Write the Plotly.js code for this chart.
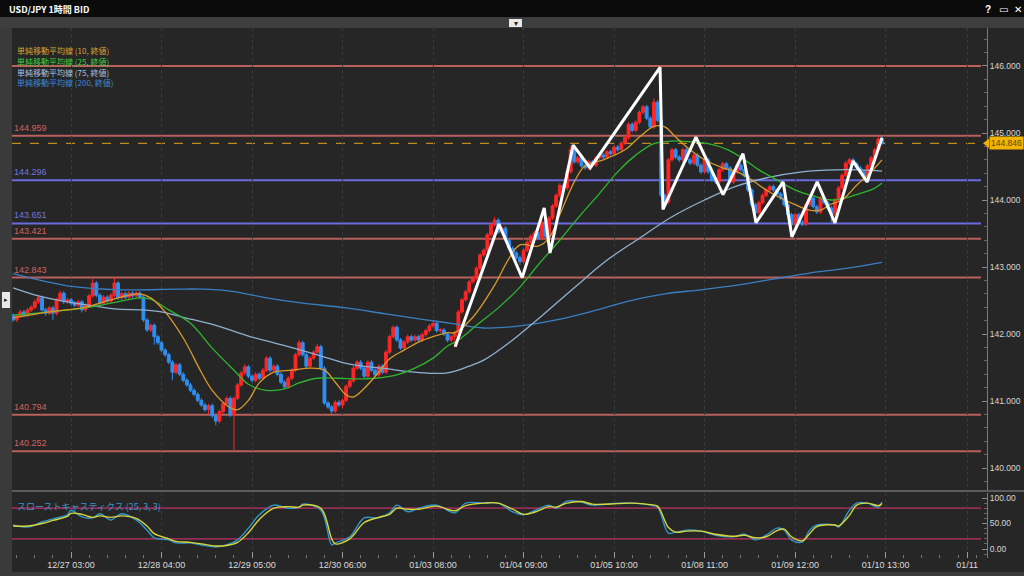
<!DOCTYPE html>
<html><head><meta charset="utf-8">
<script src="https://cdn.plot.ly/plotly-3.0.1.min.js"></script>
<style>html,body{margin:0;padding:0;background:#262626;}#chart{width:1024px;height:576px;}</style>
</head><body><div id="chart"></div>
<script>
// ---------- DATA ----------
const chartTitle = "USD/JPY 1時間 BID";
const openP = [
142.28,142.21,142.27,142.33,142.28,142.36,142.40,142.48,142.54,142.36,
142.31,142.39,142.31,142.51,142.61,142.48,142.51,142.46,142.43,142.48,
142.36,142.43,142.57,142.76,142.58,142.46,142.55,142.49,142.58,142.76,
142.54,142.60,142.55,142.61,142.57,142.61,142.55,142.21,142.06,142.13,
141.96,141.87,141.76,141.69,141.58,141.43,141.54,141.40,141.31,141.24,
141.16,141.10,141.01,140.94,140.87,140.93,140.78,140.70,140.84,140.96,
141.04,140.79,141.04,141.24,141.42,141.51,141.37,141.31,141.40,141.34,
141.46,141.64,141.46,141.52,141.40,141.28,141.21,141.34,141.46,141.69,
141.87,141.69,141.52,141.64,141.73,141.81,141.49,140.97,140.91,140.85,
140.98,140.94,141.01,141.22,141.30,141.49,141.58,141.49,141.37,141.58,
141.46,141.39,141.52,141.43,141.73,141.96,142.10,141.91,141.79,141.88,
141.96,141.91,141.96,141.91,141.99,142.05,142.12,142.16,142.05,142.06,
142.00,141.91,141.96,142.02,142.33,142.51,142.63,142.78,142.84,142.98,
143.18,143.25,143.48,143.63,143.70,143.52,143.58,143.40,143.28,143.21,
143.14,143.08,143.25,143.37,143.46,143.51,143.43,143.67,143.46,143.73,
143.91,144.07,144.22,144.18,144.42,144.75,144.57,144.63,144.51,144.48,
144.57,144.52,144.63,144.67,144.64,144.72,144.69,144.79,144.75,144.85,
144.93,145.13,145.04,145.16,145.31,145.39,145.22,145.09,145.46,145.19,
144.07,143.97,144.60,144.75,144.64,144.60,144.75,144.60,144.55,144.67,
144.52,144.42,144.60,144.42,144.30,144.27,144.45,144.54,144.48,144.27,
144.42,144.52,144.45,144.36,144.15,143.93,143.81,143.96,144.07,144.15,
144.20,144.15,144.09,144.03,143.93,143.78,143.63,143.78,143.67,143.64,
143.93,144.03,143.90,143.82,144.03,143.96,143.88,143.79,144.00,144.18,
144.37,144.55,144.60,144.54,144.48,144.42,144.36,144.51,144.63,144.75,
144.91];
const highP = [
142.31,142.30,142.36,142.36,142.39,142.43,142.51,142.58,142.57,142.39,
142.42,142.42,142.54,142.65,142.64,142.54,142.54,142.49,142.51,142.51,
142.46,142.60,142.82,142.79,142.61,142.58,142.58,142.61,142.84,142.79,
142.63,142.63,142.64,142.64,142.64,142.64,142.58,142.24,142.16,142.16,
141.99,141.90,141.79,141.72,141.61,141.57,141.57,141.43,141.34,141.27,
141.19,141.13,141.04,140.97,140.96,140.96,140.81,140.87,140.99,141.07,
141.07,141.07,141.27,141.45,141.55,141.54,141.40,141.43,141.43,141.49,
141.67,141.67,141.55,141.55,141.43,141.31,141.37,141.49,141.72,141.91,
141.90,141.72,141.67,141.76,141.85,141.84,141.52,141.00,140.94,141.01,
141.01,141.04,141.25,141.33,141.52,141.61,141.61,141.52,141.61,141.61,
141.49,141.55,141.55,141.76,141.99,142.13,142.13,141.94,141.91,141.99,
141.99,141.99,141.99,142.02,142.08,142.15,142.19,142.19,142.09,142.09,
142.03,141.99,142.05,142.36,142.54,142.66,142.81,142.87,143.01,143.21,
143.28,143.51,143.66,143.75,143.73,143.61,143.61,143.43,143.31,143.24,
143.17,143.28,143.40,143.49,143.54,143.54,143.70,143.70,143.76,143.94,
144.10,144.25,144.25,144.45,144.80,144.78,144.66,144.66,144.54,144.60,
144.60,144.66,144.70,144.70,144.75,144.75,144.82,144.82,144.88,144.96,
145.16,145.16,145.19,145.34,145.42,145.42,145.25,145.52,145.49,145.22,
144.10,144.63,144.78,144.78,144.67,144.78,144.78,144.63,144.70,144.70,
144.55,144.63,144.63,144.45,144.33,144.48,144.57,144.57,144.51,144.45,
144.55,144.55,144.48,144.39,144.18,143.96,143.99,144.10,144.18,144.23,
144.23,144.18,144.12,144.06,143.96,143.81,143.81,143.81,143.70,143.96,
144.06,144.06,143.93,144.06,144.06,143.99,143.91,144.03,144.21,144.40,
144.58,144.63,144.63,144.57,144.51,144.45,144.54,144.66,144.78,144.95,
144.96];
const lowP = [
142.18,142.18,142.24,142.25,142.25,142.33,142.37,142.45,142.33,142.27,
142.28,142.21,142.28,142.48,142.45,142.45,142.43,142.40,142.40,142.32,
142.33,142.40,142.54,142.55,142.43,142.43,142.46,142.46,142.55,142.51,
142.51,142.52,142.52,142.54,142.54,142.52,142.18,142.03,142.03,141.84,
141.84,141.73,141.66,141.55,141.31,141.40,141.37,141.28,141.21,141.13,
141.07,140.98,140.91,140.84,140.80,140.75,140.64,140.67,140.81,140.93,
140.76,140.27,141.01,141.21,141.39,141.34,141.28,141.28,141.31,141.31,
141.43,141.43,141.43,141.37,141.25,141.18,141.18,141.31,141.43,141.66,
141.66,141.49,141.49,141.61,141.70,141.46,140.94,140.88,140.81,140.82,
140.91,140.89,140.98,141.19,141.27,141.46,141.46,141.34,141.34,141.43,
141.36,141.36,141.40,141.40,141.70,141.93,141.88,141.76,141.76,141.85,
141.88,141.88,141.88,141.88,141.96,142.02,142.09,142.02,142.02,141.97,
141.88,141.88,141.80,141.99,142.30,142.48,142.60,142.75,142.81,142.95,
143.15,143.22,143.45,143.60,143.49,143.49,143.37,143.25,143.18,143.11,
143.03,143.05,143.22,143.34,143.43,143.40,143.40,143.43,143.43,143.70,
143.88,144.04,144.15,144.15,144.39,144.54,144.54,144.48,144.45,144.45,
144.49,144.49,144.60,144.61,144.61,144.66,144.66,144.72,144.72,144.82,
144.90,145.01,145.01,145.13,145.28,145.19,145.06,145.06,145.16,144.04,
143.90,143.94,144.57,144.61,144.57,144.57,144.57,144.52,144.52,144.49,
144.39,144.39,144.39,144.27,144.24,144.24,144.42,144.45,144.24,144.24,
144.39,144.42,144.33,144.12,143.90,143.75,143.78,143.93,144.04,144.12,
144.12,144.06,144.00,143.90,143.75,143.45,143.60,143.64,143.61,143.61,
143.90,143.87,143.79,143.79,143.93,143.85,143.67,143.76,143.97,144.15,
144.34,144.52,144.51,144.45,144.39,144.33,144.33,144.48,144.60,144.72,
144.82];
const closeP = [
142.21,142.27,142.33,142.28,142.36,142.40,142.48,142.54,142.36,142.31,
142.39,142.31,142.51,142.61,142.48,142.51,142.46,142.43,142.48,142.36,
142.43,142.57,142.76,142.58,142.46,142.55,142.49,142.58,142.76,142.54,
142.60,142.55,142.61,142.57,142.61,142.55,142.21,142.06,142.13,141.96,
141.87,141.76,141.69,141.58,141.43,141.54,141.40,141.31,141.24,141.16,
141.10,141.01,140.94,140.87,140.93,140.78,140.70,140.84,140.96,141.04,
140.79,141.04,141.24,141.42,141.51,141.37,141.31,141.40,141.34,141.46,
141.64,141.46,141.52,141.40,141.28,141.21,141.34,141.46,141.69,141.87,
141.69,141.52,141.64,141.73,141.81,141.49,140.97,140.91,140.85,140.98,
140.94,141.01,141.22,141.30,141.49,141.58,141.49,141.37,141.58,141.46,
141.39,141.52,141.43,141.73,141.96,142.10,141.91,141.79,141.88,141.96,
141.91,141.96,141.91,141.99,142.05,142.12,142.16,142.05,142.06,142.00,
141.91,141.96,142.02,142.33,142.51,142.63,142.78,142.84,142.98,143.18,
143.25,143.48,143.63,143.70,143.52,143.58,143.40,143.28,143.21,143.14,
143.08,143.25,143.37,143.46,143.51,143.43,143.67,143.46,143.73,143.91,
144.07,144.22,144.18,144.42,144.75,144.57,144.63,144.51,144.48,144.57,
144.52,144.63,144.67,144.64,144.72,144.69,144.79,144.75,144.85,144.93,
145.13,145.04,145.16,145.31,145.39,145.22,145.09,145.46,145.19,144.07,
143.97,144.60,144.75,144.64,144.60,144.75,144.60,144.55,144.67,144.52,
144.42,144.60,144.42,144.30,144.27,144.45,144.54,144.48,144.27,144.42,
144.52,144.45,144.36,144.15,143.93,143.81,143.96,144.07,144.15,144.20,
144.15,144.09,144.03,143.93,143.78,143.63,143.78,143.67,143.64,143.93,
144.03,143.90,143.82,144.03,143.96,143.88,143.79,144.00,144.18,144.37,
144.55,144.60,144.54,144.48,144.42,144.36,144.51,144.63,144.75,144.91,
144.846];

// moving averages (read at sampled bars)
const ma10Idx = [0,10,20,27,35,38,42,47,52,55,60,62,65,68,72,77,82,86,89,92,94,97,101,104,108,112,116,120,122,127,133,137,140,145,148,151,155,158,163,169,173,177,180,183,187,191,196,200,204,208,212,216,220,223,226,229,233,237,240];
const ma10Val = [142.24,142.33,142.40,142.51,142.60,142.54,142.33,141.94,141.43,141.16,140.90,140.87,141.01,141.27,141.43,141.46,141.49,141.46,141.28,141.09,141.06,141.19,141.43,141.63,141.76,141.88,141.96,142.02,142.02,142.25,142.73,143.13,143.33,143.31,143.43,143.78,144.27,144.51,144.60,144.75,144.94,145.10,145.09,144.94,144.75,144.60,144.48,144.42,144.30,144.15,144.03,143.93,143.85,143.85,143.94,144.00,144.22,144.42,144.60];
const ma25Idx = [0,10,20,27,35,38,43,49,55,61,65,70,75,79,84,90,95,100,106,111,116,120,123,128,134,140,145,151,156,162,167,172,177,182,187,192,197,201,206,211,216,221,226,230,234,237,240];
const ma25Val = [142.28,142.33,142.39,142.46,142.54,142.52,142.36,142.16,141.79,141.46,141.25,141.16,141.18,141.27,141.34,141.34,141.33,141.34,141.39,141.49,141.64,141.82,141.91,142.13,142.39,142.70,143.03,143.40,143.73,144.10,144.42,144.67,144.84,144.88,144.87,144.84,144.76,144.64,144.45,144.30,144.15,144.06,144.00,144.03,144.10,144.15,144.25];
const ma75Idx = [0,7,15,22,29,36,41,47,56,65,74,84,93,102,111,120,126,130,137,146,155,164,173,182,191,200,209,218,227,234,240];
const ma75Val = [142.69,142.57,142.48,142.42,142.37,142.36,142.33,142.25,142.13,141.97,141.84,141.69,141.55,141.49,141.43,141.42,141.52,141.61,141.87,142.27,142.69,143.10,143.43,143.75,144.00,144.21,144.34,144.42,144.45,144.45,144.43];
const ma200Idx = [0,15,30,45,52,60,70,80,92,103,113,121,130,140,150,160,170,180,190,200,210,220,230,240];
const ma200Val = [142.90,142.72,142.66,142.67,142.67,142.64,142.54,142.46,142.39,142.30,142.22,142.16,142.09,142.12,142.21,142.34,142.49,142.60,142.66,142.73,142.82,142.91,142.98,143.07];
const maNames = ["単純移動平均線 (10, 終値)","単純移動平均線 (25, 終値)","単純移動平均線 (75, 終値)","単純移動平均線 (200, 終値)"];

// hand-drawn zigzag (bar index, price)
const zzIdx = [122.1,134.2,140.6,146.7,148.3,154.7,159.4,178.7,179.5,188.6,196.1,201.6,205.2,212.7,215.1,222.1,227.0,232.0,235.9,240.0];
const zzVal = [141.81,143.64,142.84,143.88,143.21,144.82,144.48,145.98,143.86,144.94,144.08,144.69,143.66,144.27,143.45,144.27,143.66,144.58,144.27,144.93];

// horizontal levels
const levels = [146.000,144.959,144.296,143.651,143.421,142.843,140.794,140.252];
const levelKind = ["R","R","B","B","R","R","R","R"];
const levelLabeled = [false,true,true,true,true,true,true,true];
const lastPrice = 144.846;

// slow stochastics (25,3,3)
const stIdx = [0,4,8,11,15,16,19,22,24,27,30,34,37,39,43,45,49,52,56,59,62,65,68,72,76,79,80,85,88,89,93,97,101,104,106,109,112,117,122,125,130,134,138,141,144,148,150,153,157,160,167,171,176,178,181,183,186,190,194,199,202,205,208,211,213,215,218,220,222,227,228,231,233,236,239,240];
const stK = [47,43,53,59,67,76,63,61,69,57,69,57,37,22,18,12,12,8,4,8,18,41,67,86,80,82,88,76,8,12,24,61,61,71,86,73,80,86,71,90,90,90,73,67,75,86,80,94,92,86,90,90,86,82,31,33,37,35,27,24,29,18,27,41,37,18,14,37,47,47,43,76,90,90,82,92];
const stD = [45,45,50,56,64,70,68,62,65,62,65,60,45,30,20,15,13,10,6,7,13,32,58,80,83,82,86,80,20,10,20,52,62,68,80,78,78,84,75,85,90,90,78,68,72,83,82,90,93,88,89,90,87,84,42,33,35,35,29,25,27,22,24,36,39,24,16,30,44,47,45,66,86,90,85,89];
const stTitle = "スローストキャスティクス (25, 3, 3)";
const stLevels = [80, 20];

// x-axis tick labels (bar index)
const tickIdx = [16,41,66,91,116,141,166,191,216,241,263.5];
const tickText = ["12/27 03:00","12/28 04:00","12/29 05:00","12/30 06:00","01/03 08:00","01/04 09:00","01/05 10:00","01/08 11:00","01/09 12:00","01/10 13:00","01/11"];

// ---------- LAYOUT HELPERS ----------
const W = 1024, H = 576;
const px = v => v / W;
const py = v => 1 - v / H;
const barIdx = closeP.map((_, i) => i);
const JP = "Noto Sans CJK JP, Noto Sans, sans-serif";
const NUM = "Liberation Sans, Noto Sans, sans-serif";
const redLine = "#b9615d", blueLine = "#6b6be0";
const redText = "#d06262", blueText = "#7474dc";

const traces = [
  {type:"candlestick", x:barIdx, open:openP, high:highP, low:lowP, close:closeP,
   xaxis:"x", yaxis:"y", whiskerwidth:0, hoverinfo:"skip",
   increasing:{line:{color:"#ff2626", width:1}, fillcolor:"#ff2626"},
   decreasing:{line:{color:"#2f8ff2", width:1}, fillcolor:"#2f8ff2"}, showlegend:false},
  {type:"scatter", mode:"lines", x:ma200Idx, y:ma200Val, line:{color:"#3a7fc2", width:1.3, shape:"spline", smoothing:1}, hoverinfo:"skip", showlegend:false},
  {type:"scatter", mode:"lines", x:ma75Idx, y:ma75Val, line:{color:"#8fb0cf", width:1.3, shape:"spline", smoothing:1}, hoverinfo:"skip", showlegend:false},
  {type:"scatter", mode:"lines", x:ma25Idx, y:ma25Val, line:{color:"#2fb52f", width:1.3, shape:"spline", smoothing:1}, hoverinfo:"skip", showlegend:false},
  {type:"scatter", mode:"lines", x:ma10Idx, y:ma10Val, line:{color:"#d99a2b", width:1.3, shape:"spline", smoothing:1}, hoverinfo:"skip", showlegend:false},
  {type:"scatter", mode:"lines", x:zzIdx, y:zzVal, line:{color:"#ffffff", width:3}, hoverinfo:"skip", showlegend:false},
  {type:"scatter", mode:"lines", x:stIdx, y:stK, xaxis:"x", yaxis:"y2", line:{color:"#2e97c9", width:1.4, shape:"spline", smoothing:1}, hoverinfo:"skip", showlegend:false},
  {type:"scatter", mode:"lines", x:stIdx, y:stD, xaxis:"x", yaxis:"y2", line:{color:"#d8d63a", width:1.4, shape:"spline", smoothing:1}, hoverinfo:"skip", showlegend:false}
];

const shapes = [
  {type:"rect", xref:"paper", yref:"paper", x0:0, x1:1, y0:py(17), y1:1, fillcolor:"#0b0b0b", line:{width:0}, layer:"below"},
  {type:"rect", xref:"paper", yref:"paper", x0:0, x1:1, y0:py(28), y1:py(17), fillcolor:"#3e3e3e", line:{width:0}, layer:"below"},
  {type:"rect", xref:"paper", yref:"paper", x0:0, x1:px(12), y0:0, y1:py(28), fillcolor:"#3a3a3a", line:{width:0}, layer:"below"},
  {type:"rect", xref:"paper", yref:"paper", x0:0, x1:1, y0:0, y1:py(572), fillcolor:"#3a3a3a", line:{width:0}, layer:"below"},
  {type:"rect", xref:"paper", yref:"paper", x0:px(509), x1:px(522), y0:py(27), y1:py(19), fillcolor:"#e8e8e8", line:{width:0}},
  {type:"rect", xref:"paper", yref:"paper", x0:px(2), x1:px(10), y0:py(308), y1:py(292), fillcolor:"#e8e8e8", line:{width:0}},
  {type:"line", xref:"paper", yref:"paper", x0:px(12), x1:1, y0:py(491), y1:py(491), line:{color:"#5c5c5c", width:2}}
];
levels.forEach((lv, k) => {
  shapes.push({type:"line", xref:"paper", yref:"y", x0:px(12), x1:px(981), y0:lv, y1:lv,
    line:{color: levelKind[k] === "R" ? redLine : blueLine, width:2}, layer:"below"});
});
shapes.push({type:"line", xref:"paper", yref:"y", x0:px(12), x1:px(981), y0:lastPrice, y1:lastPrice,
  line:{color:"#e2a21c", width:1, dash:"dash"}, layer:"below"});
stLevels.forEach(v => shapes.push({type:"line", xref:"paper", yref:"y2", x0:px(12), x1:px(981), y0:v, y1:v,
  line:{color:"#c0306a", width:1.3}, layer:"below"}));
shapes.push({type:"path", xref:"paper", yref:"y", path:`M ${px(983)} ${lastPrice} L ${px(989)} ${lastPrice+0.07} L ${px(989)} ${lastPrice-0.07} Z`, fillcolor:"#f2b300", line:{width:0}});

const annotations = [
  {xref:"paper", yref:"paper", x:px(7), y:py(9), xanchor:"left", yanchor:"middle", showarrow:false,
   text:"<b>"+chartTitle+"</b>", font:{family:JP, size:9, color:"#ffffff"}},
  {xref:"paper", yref:"paper", x:px(988), y:py(9), xanchor:"center", yanchor:"middle", showarrow:false, text:"<b>?</b>", font:{family:NUM, size:10, color:"#ffffff"}},
  {xref:"paper", yref:"paper", x:px(1003), y:py(9), xanchor:"center", yanchor:"middle", showarrow:false, text:"<b>▭</b>", font:{family:"DejaVu Sans", size:10, color:"#ffffff"}},
  {xref:"paper", yref:"paper", x:px(1018), y:py(9), xanchor:"center", yanchor:"middle", showarrow:false, text:"<b>✕</b>", font:{family:"DejaVu Sans", size:10, color:"#ffffff"}},
  {xref:"paper", yref:"paper", x:px(515.5), y:py(23), xanchor:"center", yanchor:"middle", showarrow:false, text:"▾", font:{family:"DejaVu Sans", size:8, color:"#222"}},
  {xref:"paper", yref:"paper", x:px(6), y:py(300), xanchor:"center", yanchor:"middle", showarrow:false, text:"▸", font:{family:"DejaVu Sans", size:7, color:"#222"}},
  {xref:"paper", yref:"y", x:px(989), y:lastPrice, xanchor:"left", yanchor:"middle", showarrow:false,
   text:lastPrice.toFixed(3), bgcolor:"#f2b300", borderpad:1, font:{family:NUM, size:8.5, color:"#5a4a00"}},
  {xref:"paper", yref:"paper", x:px(15), y:py(506), xanchor:"left", yanchor:"middle", showarrow:false,
   text:stTitle, font:{family:JP, size:9, color:"#3a94c8"}}
];
const maColors = ["#dba232","#3ccf3c","#a6c2e0","#3d86d6"];
const maRows = [51,62,72,82];
maNames.forEach((n, k) => annotations.push({xref:"paper", yref:"paper", x:px(15), y:py(maRows[k]), xanchor:"left", yanchor:"middle",
  showarrow:false, text:n, font:{family:JP, size:8, color:maColors[k]}}));
levels.forEach((lv, k) => {
  if (!levelLabeled[k]) return;
  annotations.push({xref:"paper", yref:"y", x:px(12), y:lv, xanchor:"left", yanchor:"bottom", yshift:1, showarrow:false,
    text:lv.toFixed(3), font:{family:NUM, size:9, color: levelKind[k] === "R" ? redText : blueText}});
});

const layout = {
  width:W, height:H, margin:{l:0,r:0,t:0,b:0},
  paper_bgcolor:"#262626", plot_bgcolor:"rgba(0,0,0,0)",
  showlegend:false, hovermode:false, dragmode:false,
  boxgap:0.1, boxgroupgap:0.12,
  font:{family:NUM, color:"#d6d6d6"},
  xaxis:{domain:[px(12), px(987)], range:[-0.3, 269], anchor:"y2", rangeslider:{visible:false},
    tickmode:"array", tickvals:tickIdx, ticktext:tickText, ticks:"inside", ticklen:6, tickcolor:"#9a9a9a",
    tickfont:{family:NUM, size:9, color:"#dcdcdc"},
    minor:{tickmode:"linear", tick0:1, dtick:5, ticks:"inside", ticklen:3, tickcolor:"#777", showgrid:false},
    showgrid:true, gridcolor:"#3b3b3b", griddash:"dot", gridwidth:1, zeroline:false, showline:false, fixedrange:true},
  yaxis:{domain:[py(490), py(28)], range:[139.672, 146.567], side:"right", anchor:"x",
    tickmode:"linear", tick0:0, dtick:1, tickformat:".3f", ticks:"inside", ticklen:5, tickcolor:"#8a8a8a",
    minor:{dtick:0.2, ticks:"inside", ticklen:3, tickcolor:"#666", showgrid:false},
    tickfont:{family:NUM, size:8.5, color:"#d6d6d6"},
    showline:true, linecolor:"#7a7a7a", linewidth:1, showgrid:false, zeroline:false, fixedrange:true},
  yaxis2:{domain:[py(558), py(493)], range:[-17.6, 109.8], side:"right", anchor:"x",
    tickmode:"array", tickvals:[0,50,100], tickformat:".2f", ticks:"inside", ticklen:5, tickcolor:"#8a8a8a",
    minor:{tickmode:"linear", tick0:0, dtick:10, ticks:"inside", ticklen:3, tickcolor:"#666", showgrid:false},
    tickfont:{family:NUM, size:8.5, color:"#d6d6d6"},
    showline:true, linecolor:"#7a7a7a", linewidth:1, showgrid:false, zeroline:false, fixedrange:true},
  shapes:shapes, annotations:annotations
};

Plotly.newPlot("chart", traces, layout, {displayModeBar:false, staticPlot:true});
</script>
</body></html>
